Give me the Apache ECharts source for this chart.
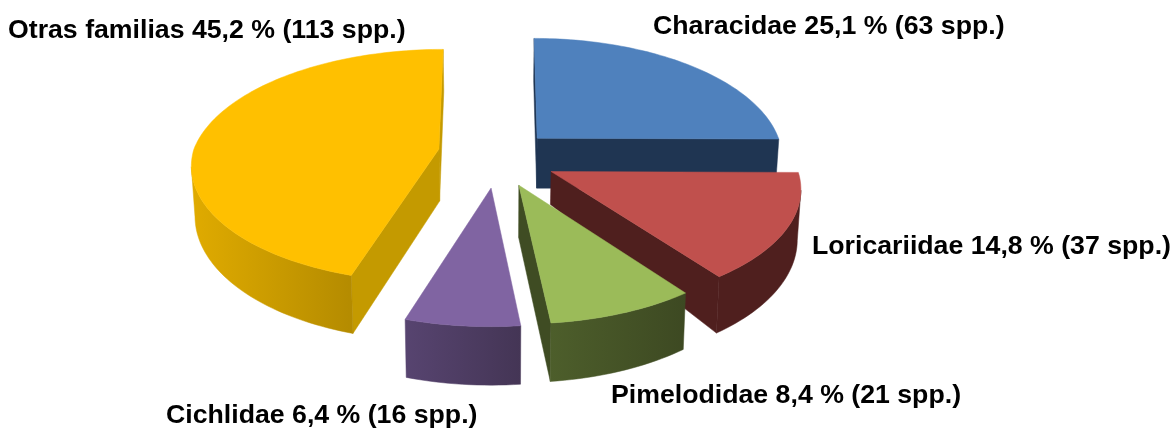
<!DOCTYPE html>
<html>
<head>
<meta charset="utf-8">
<style>html,body{margin:0;padding:0;background:#fff}#c{width:1174px;height:430px}</style>
<script src="https://cdn.jsdelivr.net/npm/echarts@6/dist/echarts.min.js"></script>
</head>
<body>
<div id="c"></div>
<script>
const families = ['Characidae', 'Loricariidae', 'Pimelodidae', 'Cichlidae', 'Otras familias'];
const percents = [25.1, 14.8, 8.4, 6.4, 45.2];
const species = [63, 37, 21, 16, 113];

const topColors = ['#4f81bd', '#c0504d', '#9bbb59', '#8064a2', '#ffc000'];
const cutColors = ['#1f3552', '#4f1f1e', '#3f4c23', '#544069', '#c49a00'];
const rimStart = ['#1f3552', '#4f1f1e', '#4d5e2b', '#574470', '#e0ab00'];
const rimEnd = ['#1f3552', '#4f1f1e', '#3d4922', '#443555', '#b48b00'];
const apexDepth = [50, 33, 52, 52, 52];
const nudgeX = [-3, 0, 0, 0, 2];
const nudgeY = [0, 0, 0, 1, -5];
const sideScale = [0.985, 1.008, 0.99, 1, 1];
const frontScale = [1, 0.97, 1, 1, 0.96];
const labelLeft = [653, 812, 611, 166, 8];
const labelMiddle = [27, 247, 396, 416, 31];

const cx = 497, cy = 158.4, rx = 245, ry = 116, k = 0.163, explode = 0.248, depth = 49, q = 0.012, skew = 0.5;
const total = percents.reduce((a, b) => a + b, 0);

let acc = 0;
const slices = percents.map((p, i) => {
  const a0 = acc / total * Math.PI * 2;
  acc += p;
  const a1 = acc / total * Math.PI * 2;
  const m = (a0 + a1) / 2;
  return { i, a0, a1, ax: explode * Math.sin(m), ay: explode * Math.cos(m) };
});

function shrink(x) { return x + (cx - x) * q; }

function rimPoint(sl, t) {
  const c = Math.cos(t);
  const s = 1 / (1 + k * c);
  const f = 1 - (1 - frontScale[sl.i]) * Math.max(0, -c);
  const ox = rx * sl.ax;
  const x = cx + ox + nudgeX[sl.i] + rx * Math.sin(t) * s * f * sideScale[sl.i] + ox * (s - 1) * skew;
  const y = cy - ry * sl.ay + nudgeY[sl.i] - ry * c * s * f;
  return { top: [x, y], bot: [shrink(x), y + depth * s] };
}

function wall(pts, fill, z2) {
  const down = pts.map(p => p.bot).reverse();
  return {
    type: 'polygon', z2, silent: true,
    shape: { points: pts.map(p => p.top).concat(down) },
    style: { fill, stroke: fill, lineWidth: 0.5 }
  };
}

function renderItem(params, api) {
  const i = params.dataIndex;
  const sl = slices[i];
  const rank = slices.slice().sort((a, b) => b.ay - a.ay).indexOf(sl);
  const base = rank * 10;
  const ax = cx + rx * sl.ax + nudgeX[i], ay = cy - ry * sl.ay + nudgeY[i];
  const apex = { top: [ax, ay], bot: [shrink(ax), ay + apexDepth[i]] };
  const n = Math.max(8, Math.round((sl.a1 - sl.a0) * 40));
  const rim = [];
  for (let j = 0; j <= n; j++) rim.push(rimPoint(sl, sl.a0 + (sl.a1 - sl.a0) * j / n));
  const children = [];
  const grad = new echarts.graphic.LinearGradient(0, 0, 1, 0, [
    { offset: 0, color: rimStart[i] }, { offset: 1, color: rimEnd[i] }
  ]);
  if (rim[0].top[0] < apex.top[0]) children.push(wall([apex, rim[0]], cutColors[i], base + 1));
  if (apex.top[0] < rim[n].top[0]) children.push(wall([rim[n], apex], cutColors[i], base + 1));
  // The rim wall is only seen where the edge runs leftwards on screen.
  const front = rim.filter((p, j) => (j < n && rim[j + 1].top[0] < p.top[0]) || (j > 0 && p.top[0] < rim[j - 1].top[0]));
  if (front.length > 1) children.push(wall(front, grad, base + 2));
  children.push({
    type: 'polygon', z2: base + 3, silent: true,
    shape: { points: [apex.top].concat(rim.map(p => p.top)) },
    style: { fill: topColors[i], stroke: topColors[i], lineWidth: 0.5 }
  });
  children.push({
    type: 'text', z2: 100, silent: true,
    style: {
      x: labelLeft[i], y: labelMiddle[i],
      text: families[i] + ' ' + String(api.value(0)).replace('.', ',') + ' % (' + api.value(1) + ' spp.)',
      font: 'bold 26.7px "Liberation Sans", Arial, sans-serif',
      fill: '#000', align: 'left', verticalAlign: 'middle'
    }
  });
  return { type: 'group', children };
}

const chart = echarts.init(document.getElementById('c'));
chart.setOption({
  backgroundColor: '#fff',
  animation: false,
  series: [{
    type: 'custom',
    coordinateSystem: 'none',
    renderItem,
    data: families.map((name, i) => ({ name, value: [percents[i], species[i]] }))
  }]
});
</script>
</body>
</html>
